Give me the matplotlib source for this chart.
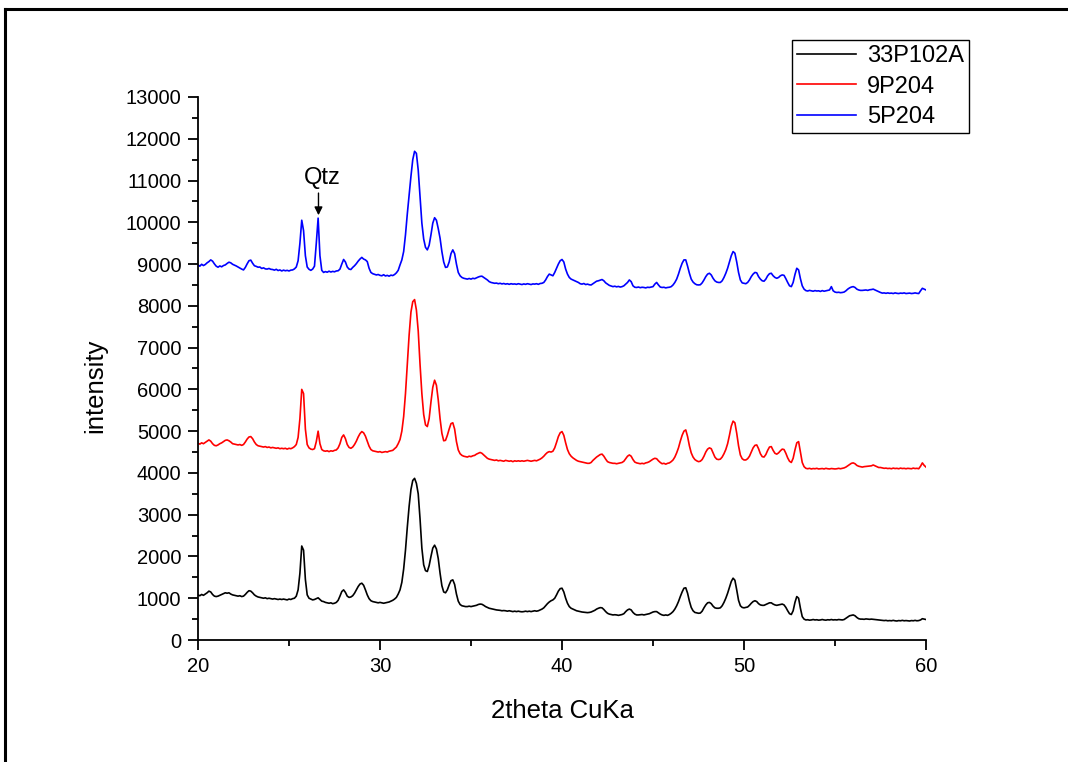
import numpy as np
import matplotlib
matplotlib.use("Agg")
import matplotlib.pyplot as plt
from matplotlib.lines import Line2D

plt.rcParams['font.family'] = ['Liberation Sans', 'DejaVu Sans']

# 2theta grid (degrees, CuKa), 0.1 degree step from 20 to 60
two_theta = np.round(np.arange(200, 601) / 10.0, 1)

series_names = ["33P102A", "9P204", "5P204"]
series_colors = ["black", "red", "blue"]

# 33P102A
counts_33P102A = [
    1080, 1060, 1090, 1070, 1100, 1130, 1170, 1150, 1090, 1050,  # 20
    1040, 1050, 1070, 1090, 1110, 1130, 1120, 1130, 1100, 1080,  # 21
    1070, 1060, 1050, 1060, 1040, 1050, 1090, 1140, 1180, 1170,  # 22
    1130, 1080, 1050, 1030, 1020, 1010, 1000, 1010, 990, 1000,   # 23
    990, 980, 990, 980, 970, 980, 970, 980, 970, 960,            # 24
    980, 970, 990, 1000, 1050, 1200, 1600, 2250, 2150, 1450,     # 25
    1080, 1000, 980, 960, 970, 990, 1010, 970, 930, 920,         # 26
    900, 890, 880, 890, 870, 880, 900, 950, 1050, 1160,          # 27
    1200, 1140, 1050, 1020, 1030, 1060, 1120, 1200, 1280, 1340,  # 28
    1360, 1310, 1200, 1080, 990, 940, 920, 910, 900, 890,        # 29
    900, 890, 880, 890, 900, 910, 930, 950, 980, 1020,           # 30
    1100, 1200, 1380, 1700, 2150, 2700, 3200, 3600, 3820, 3870,  # 31
    3750, 3500, 2900, 2200, 1800, 1660, 1640, 1780, 2000, 2200,  # 32
    2270, 2180, 1950, 1600, 1300, 1150, 1130, 1200, 1320, 1420,  # 33
    1440, 1330, 1100, 930, 850, 820, 810, 800, 800, 810,         # 34
    800, 810, 820, 830, 850, 860, 855, 830, 800, 780,            # 35
    760, 750, 740, 730, 720, 715, 710, 700, 705, 700,            # 36
    690, 700, 690, 680, 690, 680, 690, 680, 675, 680,            # 37
    690, 680, 690, 680, 690, 700, 690, 700, 720, 740,            # 38
    770, 820, 870, 910, 940, 960, 1000, 1080, 1170, 1230,        # 39
    1240, 1150, 1000, 880, 800, 760, 740, 720, 700, 690,         # 40
    680, 670, 665, 660, 655, 660, 670, 690, 710, 740,            # 41
    760, 775, 770, 730, 680, 640, 620, 610, 600, 605,            # 42
    600, 590, 600, 610, 630, 680, 720, 740, 720, 660,            # 43
    620, 600, 600, 605, 610, 600, 610, 620, 630, 650,            # 44
    670, 680, 680, 650, 620, 600, 590, 600, 590, 610,            # 45
    640, 680, 740, 820, 920, 1040, 1150, 1240, 1250, 1120,       # 46
    930, 780, 700, 660, 650, 640, 645, 690, 770, 840,            # 47
    890, 900, 870, 810, 770, 760, 760, 770, 820, 900,            # 48
    1000, 1120, 1260, 1400, 1480, 1430, 1200, 950, 820, 780,     # 49
    770, 780, 790, 830, 880, 920, 940, 920, 870, 840,            # 50
    830, 830, 850, 870, 890, 890, 860, 840, 830, 840,            # 51
    850, 860, 840, 780, 700, 630, 610, 700, 900, 1040,           # 52
    1000, 760, 560, 500, 480, 485, 475, 480, 490, 480,           # 53
    485, 475, 480, 490, 480, 475, 485, 480, 490, 480,            # 54
    485, 480, 490, 485, 480, 490, 520, 550, 580, 590,            # 55
    600, 580, 540, 510, 500, 500, 495, 505, 500, 495,            # 56
    500, 495, 490, 485, 480, 475, 470, 465, 470, 460,            # 57
    465, 460, 470, 460, 455, 465, 460, 470, 460, 465,            # 58
    460, 455, 465, 460, 470, 460, 465, 480, 510, 500,            # 59
    490,                                                         # 60
]

# 9P204
counts_9P204 = [
    4710, 4690, 4720, 4700, 4730, 4760, 4790, 4760, 4700, 4660,  # 20
    4650, 4670, 4700, 4720, 4750, 4780, 4790, 4770, 4740, 4700,  # 21
    4690, 4680, 4670, 4680, 4660, 4680, 4740, 4810, 4860, 4870,  # 22
    4820, 4740, 4680, 4650, 4640, 4630, 4620, 4630, 4610, 4620,  # 23
    4600, 4610, 4600, 4590, 4600, 4580, 4590, 4580, 4590, 4570,  # 24
    4590, 4580, 4600, 4630, 4680, 4850, 5300, 6000, 5900, 5050,  # 25
    4680, 4600, 4570, 4560, 4580, 4750, 5000, 4700, 4560, 4530,  # 26
    4520, 4530, 4510, 4530, 4520, 4540, 4550, 4600, 4700, 4850,  # 27
    4910, 4820, 4680, 4610, 4590, 4620, 4680, 4760, 4860, 4940,  # 28
    4990, 4960, 4880, 4760, 4640, 4560, 4530, 4520, 4510, 4500,  # 29
    4510, 4490, 4500, 4510, 4500, 4520, 4530, 4540, 4580, 4620,  # 30
    4700, 4800, 5000, 5350, 5900, 6600, 7300, 7850, 8100, 8150,  # 31
    7900, 7400, 6600, 5900, 5400, 5150, 5110, 5300, 5700, 6050,  # 32
    6220, 6100, 5750, 5300, 4950, 4770, 4780, 4900, 5050, 5180,  # 33
    5200, 5050, 4750, 4550, 4460, 4420, 4400, 4390, 4380, 4400,  # 34
    4390, 4410, 4420, 4450, 4470, 4490, 4470, 4430, 4390, 4350,  # 35
    4330, 4320, 4310, 4300, 4310, 4290, 4300, 4290, 4280, 4300,  # 36
    4290, 4280, 4290, 4270, 4290, 4280, 4290, 4280, 4290, 4280,  # 37
    4290, 4300, 4290, 4280, 4290, 4300, 4290, 4310, 4330, 4360,  # 38
    4400, 4450, 4490, 4510, 4500, 4520, 4600, 4730, 4870, 4960,  # 39
    4990, 4900, 4720, 4560, 4460, 4400, 4360, 4330, 4300, 4280,  # 40
    4270, 4260, 4250, 4240, 4230, 4230, 4250, 4300, 4340, 4380,  # 41
    4410, 4440, 4450, 4400, 4330, 4270, 4250, 4240, 4230, 4230,  # 42
    4220, 4230, 4240, 4250, 4280, 4340, 4400, 4430, 4400, 4320,  # 43
    4260, 4240, 4230, 4220, 4230, 4220, 4240, 4250, 4270, 4300,  # 44
    4330, 4350, 4340, 4290, 4250, 4220, 4230, 4210, 4230, 4240,  # 45
    4270, 4310, 4380, 4480, 4600, 4760, 4900, 5000, 5030, 4870,  # 46
    4650, 4480, 4380, 4320, 4290, 4270, 4280, 4320, 4400, 4500,  # 47
    4570, 4600, 4580, 4480, 4380, 4330, 4320, 4330, 4380, 4460,  # 48
    4560, 4700, 4900, 5120, 5240, 5200, 4950, 4650, 4430, 4340,  # 49
    4310, 4310, 4340, 4400, 4500, 4600, 4660, 4670, 4580, 4460,  # 50
    4390, 4380, 4440, 4540, 4620, 4630, 4540, 4470, 4450, 4480,  # 51
    4530, 4570, 4560, 4470, 4360, 4280, 4250, 4350, 4550, 4720,  # 52
    4750, 4500, 4250, 4150, 4110, 4100, 4110, 4095, 4105, 4100,  # 53
    4110, 4095, 4100, 4105, 4095, 4110, 4100, 4095, 4105, 4100,  # 54
    4095, 4100, 4110, 4100, 4110, 4120, 4140, 4170, 4200, 4230,  # 55
    4240, 4220, 4180, 4160, 4150, 4140, 4150, 4155, 4160, 4165,  # 56
    4170, 4190, 4170, 4150, 4130, 4130, 4120, 4110, 4115, 4105,  # 57
    4110, 4100, 4115, 4105, 4110, 4100, 4115, 4105, 4110, 4100,  # 58
    4110, 4105, 4100, 4115, 4105, 4110, 4100, 4160, 4240, 4180,  # 59
    4140,                                                        # 60
]

# 5P204
counts_5P204 = [
    8980, 8950, 8995, 8965, 8990, 9030, 9060, 9100, 9070, 9005,  # 20
    8950, 8925, 8955, 8935, 8965, 8980, 9015, 9045, 9030, 8995,  # 21
    8975, 8955, 8930, 8905, 8880, 8860, 8920, 9005, 9080, 9095,  # 22
    9020, 8960, 8945, 8925, 8930, 8895, 8910, 8885, 8880, 8895,  # 23
    8875, 8870, 8855, 8875, 8845, 8860, 8835, 8855, 8840, 8850,  # 24
    8835, 8855, 8860, 8885, 8930, 9080, 9500, 10050, 9800, 9200,  # 25
    8930, 8875, 8850, 8880, 8950, 9500, 10100, 9200, 8850, 8800,  # 26
    8820, 8805, 8830, 8810, 8825, 8815, 8835, 8840, 8880, 9000,  # 27
    9110, 9050, 8930, 8880, 8870, 8920, 8960, 9010, 9070, 9120,  # 28
    9160, 9120, 9100, 9060, 8900, 8800, 8770, 8755, 8740, 8750,  # 29
    8730, 8720, 8745, 8715, 8730, 8710, 8735, 8725, 8750, 8790,  # 30
    8850, 8980, 9100, 9300, 9700, 10200, 10650, 11100, 11500, 11700,  # 31
    11650, 11250, 10600, 9980, 9600, 9400, 9340, 9450, 9700, 9980,   # 32
    10110, 10050, 9850, 9620, 9300, 9050, 8920, 8930, 9050, 9250,    # 33
    9340, 9250, 9000, 8800, 8720, 8680, 8660, 8650, 8640, 8655,  # 34
    8640, 8660, 8650, 8670, 8690, 8705, 8710, 8680, 8650, 8620,  # 35
    8580, 8560, 8550, 8540, 8545, 8530, 8540, 8525, 8535, 8520,  # 36
    8530, 8515, 8530, 8520, 8525, 8515, 8530, 8520, 8510, 8525,  # 37
    8515, 8530, 8520, 8510, 8525, 8520, 8530, 8515, 8535, 8540,  # 38
    8560, 8620, 8700, 8760, 8740, 8720, 8800, 8900, 9000, 9080,  # 39
    9110, 9050, 8880, 8760, 8680, 8640, 8620, 8600, 8580, 8560,  # 40
    8530, 8520, 8535, 8510, 8520, 8505, 8500, 8530, 8560, 8590,  # 41
    8600, 8615, 8630, 8600, 8550, 8520, 8490, 8475, 8460, 8470,  # 42
    8455, 8465, 8450, 8460, 8480, 8520, 8560, 8620, 8580, 8480,  # 43
    8445, 8440, 8450, 8435, 8445, 8440, 8430, 8445, 8440, 8450,  # 44
    8460, 8520, 8560, 8500, 8450, 8440, 8445, 8430, 8440, 8445,  # 45
    8460, 8500, 8560, 8640, 8760, 8900, 9020, 9100, 9100, 8950,  # 46
    8780, 8640, 8570, 8530, 8505, 8500, 8505, 8550, 8620, 8700,  # 47
    8760, 8780, 8740, 8660, 8600, 8570, 8560, 8560, 8600, 8680,  # 48
    8780, 8900, 9050, 9200, 9300, 9260, 9050, 8800, 8620, 8550,  # 49
    8540, 8530, 8560, 8620, 8700, 8760, 8800, 8790, 8700, 8640,  # 50
    8600, 8590, 8640, 8720, 8770, 8780, 8720, 8680, 8660, 8680,  # 51
    8720, 8740, 8730, 8650, 8560, 8480, 8460, 8560, 8750, 8900,  # 52
    8860, 8650, 8480, 8400, 8365, 8355, 8370, 8360, 8350, 8365,  # 53
    8355, 8360, 8345, 8365, 8350, 8360, 8370, 8380, 8460, 8360,  # 54
    8330, 8320, 8325, 8315, 8320, 8330, 8360, 8400, 8430, 8450,  # 55
    8460, 8440, 8400, 8380, 8370, 8370, 8375, 8380, 8370, 8385,  # 56
    8390, 8400, 8380, 8360, 8340, 8320, 8305, 8310, 8300, 8310,  # 57
    8300, 8305, 8295, 8310, 8300, 8295, 8305, 8300, 8310, 8295,  # 58
    8300, 8305, 8295, 8300, 8310, 8300, 8295, 8360, 8420, 8400,  # 59
    8380,                                                        # 60
]

x_ticks = [20, 30, 40, 50, 60]
y_ticks = list(range(0, 13001, 1000))

# Quartz reflection marker
qtz_label = "Qtz"
qtz_peak = 26.62
qtz_text_y = 11060
qtz_arrow_top = 10700
qtz_arrow_tip = 10170

W, H = 1068, 762
fig = plt.figure(figsize=(W / 100, H / 100), dpi=100)
ax = fig.add_axes([198 / W, 1 - 640 / H, (926 - 198) / W, (640 - 97) / H])

all_counts = [counts_33P102A, counts_9P204, counts_5P204]
for name, color, counts in zip(series_names, series_colors, all_counts):
    ax.plot(two_theta, counts, color=color, lw=1.2, label=name)

ax.set_xlim(20, 60)
ax.set_ylim(0, 13000)
ax.set_xticks(x_ticks)
ax.set_xticks([25, 35, 45, 55], minor=True)
ax.set_yticks(y_ticks)
ax.set_yticks(np.arange(500, 13000, 1000), minor=True)
ax.tick_params(axis='both', which='major', direction='out', length=7, width=1.3,
               labelsize=14.5, pad=5)
ax.tick_params(axis='both', which='minor', direction='out', length=4, width=1.3)

for side in ['top', 'right']:
    ax.spines[side].set_visible(False)
for side in ['left', 'bottom']:
    ax.spines[side].set_linewidth(1.3)

ax.set_xlabel("2theta CuKa", fontsize=18.5)
ax.set_ylabel("intensity", fontsize=18.5)
ax.xaxis.set_label_coords(0.5, -0.108)
ax.yaxis.set_label_coords(-0.125, 0.468)

ax.text(qtz_peak + 0.18, qtz_text_y, qtz_label, fontsize=17, ha='center', va='center')
ax.annotate("", xy=(qtz_peak, qtz_arrow_tip), xytext=(qtz_peak, qtz_arrow_top),
            arrowprops=dict(arrowstyle='-|>', color='black', lw=1.0,
                            mutation_scale=12, shrinkA=0, shrinkB=0))

leg = ax.legend(loc='upper left', bbox_to_anchor=(792 / W, 1 - 40 / H),
                bbox_transform=fig.transFigure, fontsize=17, frameon=True,
                fancybox=False, edgecolor='black', framealpha=1,
                handlelength=2.5, handletextpad=0.45, borderpad=0.22,
                labelspacing=0.36, borderaxespad=0)
leg.get_frame().set_linewidth(1.0)

# outer frame around the figure
fig.add_artist(Line2D([5 / W, 1.0], [1 - 9 / H, 1 - 9 / H], transform=fig.transFigure,
                      color='black', lw=2.2))
fig.add_artist(Line2D([5 / W, 5 / W], [0.0, 1 - 9 / H], transform=fig.transFigure,
                      color='black', lw=2.2))

fig.savefig("out.png", dpi=100)
